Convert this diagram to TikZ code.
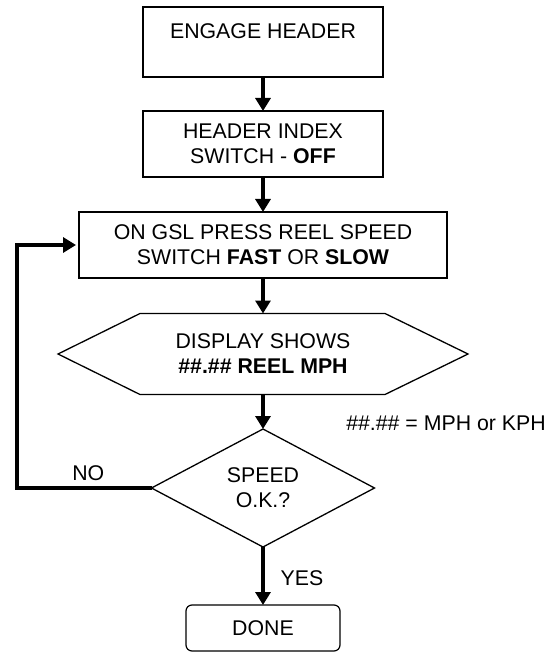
\documentclass[tikz,border=0pt]{standalone}
\usepackage{fontspec}
\setmainfont{Liberation Sans}
\usetikzlibrary{arrows.meta,shapes.geometric}

\tikzset{
  stepbox/.style={draw,line width=1.5pt,minimum height=66pt,align=center,outer sep=0pt,inner sep=0pt},
  donebox/.style={draw,line width=1.2pt,rounded corners=6pt,minimum width=154pt,minimum height=46pt,outer sep=0pt},
  askbox/.style={draw,diamond,line width=1.3pt,aspect=1.89,minimum width=223pt,minimum height=118pt,inner sep=0pt,outer sep=0pt,align=center},
  flow/.style={line width=3.2pt,-{Triangle[length=13pt,width=15pt]}},
  tag/.style={inner sep=2pt}
}

\begin{document}
\begin{tikzpicture}[x=1pt,y=-1pt,font=\fontsize{21.3}{25}\selectfont]
    \useasboundingbox (0,0) rectangle (558,652);

    % process boxes
    \node[stepbox,minimum width=240pt,minimum height=70pt] (engage) at (263,42) {ENGAGE HEADER\\[-10pt]\strut};
    \node[stepbox,minimum width=240pt] (index) at (263,144) {HEADER INDEX\\SWITCH - \textbf{OFF}};
    \node[stepbox,minimum width=368pt] (reel) at (263,245) {ON GSL PRESS REEL SPEED\\SWITCH \textbf{FAST} OR \textbf{SLOW}};

    % display (hexagon)
    \node[minimum width=410pt,minimum height=81pt,outer sep=0pt,align=center] (display) at (263,354) {DISPLAY SHOWS\\\textbf{\#\#.\#\# REEL MPH}};
    \draw[line width=1.3pt] (display.west) -- ([xshift=82pt]display.north west) -- ([xshift=-83pt]display.north east)
        -- (display.east) -- ([xshift=-83pt]display.south east) -- ([xshift=82pt]display.south west) -- cycle;

    % decision
    \node[askbox] (speed) at (263,488) {SPEED\\O.K.?};
    \node[donebox] (done) at (263,628) {DONE};

    % note
    \node (note) at (446,423) {\#\#.\#\# = MPH or KPH};

    % main flow
    \draw[flow] (engage) -- (index);
    \draw[flow] (index) -- (reel);
    \draw[flow] (reel) -- (display.north);
    \draw[flow] (display.south) -- (speed);
    \draw[flow] (speed) -- node[tag,right,xshift=14pt,yshift=-2pt] (yes) {YES} (done);

    % loop back
    \coordinate (back) at (17,488);
    \draw[flow,shorten >=3pt] (speed.west) -- node[tag,above,pos=0.47,yshift=4pt] (no) {NO} (back) |- (reel.west);

\end{tikzpicture}
\end{document}
